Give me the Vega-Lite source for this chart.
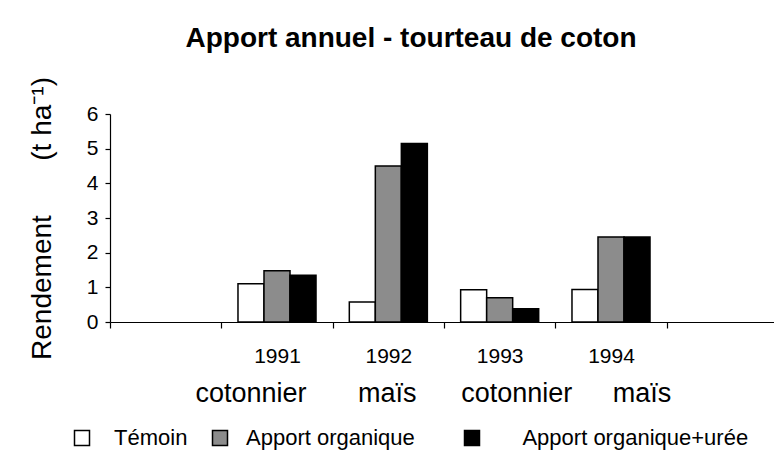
{
  "$schema": "https://vega.github.io/schema/vega-lite/v6.json",
  "width": 668,
  "height": 208,
  "autosize": "none",
  "padding": {"left": 110, "top": 114, "right": 0, "bottom": 130},
  "background": "white",
  "config": {
    "font": "Liberation Sans",
    "view": {"stroke": null},
    "axis": {"domainColor": "black", "tickColor": "black", "labelColor": "black", "titleColor": "black", "grid": false, "domainWidth": 1.2, "tickWidth": 1.2}
  },
  "title": {
    "text": "Apport annuel - tourteau de coton",
    "fontSize": 28,
    "fontWeight": "bold",
    "font": "Liberation Sans",
    "color": "black",
    "anchor": "middle",
    "frame": "group",
    "dx": -33,
    "offset": 24
  },
  "data": {
    "values": [
      {"annee": "1991", "traitement": "Témoin", "rendement": 1.1},
      {"annee": "1991", "traitement": "Apport organique", "rendement": 1.48},
      {"annee": "1991", "traitement": "Apport organique+urée", "rendement": 1.35},
      {"annee": "1992", "traitement": "Témoin", "rendement": 0.58},
      {"annee": "1992", "traitement": "Apport organique", "rendement": 4.5},
      {"annee": "1992", "traitement": "Apport organique+urée", "rendement": 5.15},
      {"annee": "1993", "traitement": "Témoin", "rendement": 0.93},
      {"annee": "1993", "traitement": "Apport organique", "rendement": 0.7},
      {"annee": "1993", "traitement": "Apport organique+urée", "rendement": 0.38},
      {"annee": "1994", "traitement": "Témoin", "rendement": 0.94},
      {"annee": "1994", "traitement": "Apport organique", "rendement": 2.45},
      {"annee": "1994", "traitement": "Apport organique+urée", "rendement": 2.45}
    ]
  },
  "encoding": {
    "xOffset": {
      "field": "traitement",
      "type": "nominal",
      "sort": ["Témoin", "Apport organique", "Apport organique+urée"],
      "scale": {"paddingInner": 0, "paddingOuter": 0.64}
    },
    "y": {
      "field": "rendement",
      "type": "quantitative",
      "scale": {"domain": [0, 6]},
      "title": "Rendement\u00a0\u00a0\u00a0\u00a0\u00a0\u00a0\u00a0(t ha⁻¹)",
      "axis": {
        "titleFontSize": 28,
        "titleFontWeight": "normal",
        "titlePadding": 30,
        "labelFontSize": 21,
        "labelPadding": 7,
        "tickCount": 6,
        "tickSize": 5
      }
    }
  },
  "layer": [
    {
      "mark": {"type": "bar", "stroke": "black", "strokeWidth": 1.5},
      "encoding": {
        "x": {
          "field": "annee",
          "type": "nominal",
          "scale": {"domain": ["a", "1991", "1992", "1993", "1994", "b"], "paddingInner": 0, "paddingOuter": 0},
          "axis": {
            "title": null,
            "orient": "bottom",
            "labelAngle": 0,
            "labelFontSize": 21,
            "labelPadding": 17,
            "tickBand": "extent",
            "tickSize": 6,
            "labelExpr": "datum.value == 'a' || datum.value == 'b' ? '' : datum.value"
          }
        },
        "fill": {
          "field": "traitement",
          "type": "nominal",
          "sort": ["Témoin", "Apport organique", "Apport organique+urée"],
          "scale": {"domain": ["Témoin", "Apport organique", "Apport organique+urée"], "range": ["white", "#8c8c8c", "black"]},
          "legend": {
            "title": null,
            "orient": "none",
            "legendX": -39,
            "legendY": 313,
            "direction": "horizontal",
            "symbolType": "square",
            "symbolSize": 225,
            "symbolStrokeColor": "black",
            "symbolStrokeWidth": 1.5,
            "labelFontSize": 22,
            "labelColor": "black",
            "labelOffset": 15,
            "columnPadding": 21,
            "labelLimit": 400,
            "labelExpr": "datum.value == 'Témoin' ? '\u200b\u00a0Témoin' : datum.value == 'Apport organique' ? 'Apport organique\u00a0\u00a0\u00a0\u00a0\u200b' : '\u200b\u00a0\u00a0\u00a0\u00a0' + datum.value"
          }
        }
      }
    },
    {
      "mark": {"type": "bar", "opacity": 0},
      "encoding": {
        "x": {
          "field": "annee",
          "type": "nominal",
          "scale": {"domain": ["a", "1991", "1992", "1993", "1994", "b"], "paddingInner": 0, "paddingOuter": 0},
          "axis": {
            "title": null,
            "orient": "bottom",
            "labelAngle": 0,
            "labelFontSize": 27,
            "labelPadding": 58,
            "ticks": false,
            "tickSize": 0,
            "domain": false,
            "labelOffset": {
              "condition": [
                {"test": "datum.value == '1991'", "value": -26},
                {"test": "datum.value == '1993'", "value": 17},
                {"test": "datum.value == '1994'", "value": 31}
              ],
              "value": -1
            },
            "labelExpr": "datum.value == '1991' ? 'cotonnier' : datum.value == '1992' ? 'maïs' : datum.value == '1993' ? 'cotonnier' : datum.value == '1994' ? 'maïs' : ''"
          }
        }
      }
    }
  ],
  "resolve": {"axis": {"x": "independent"}}
}
